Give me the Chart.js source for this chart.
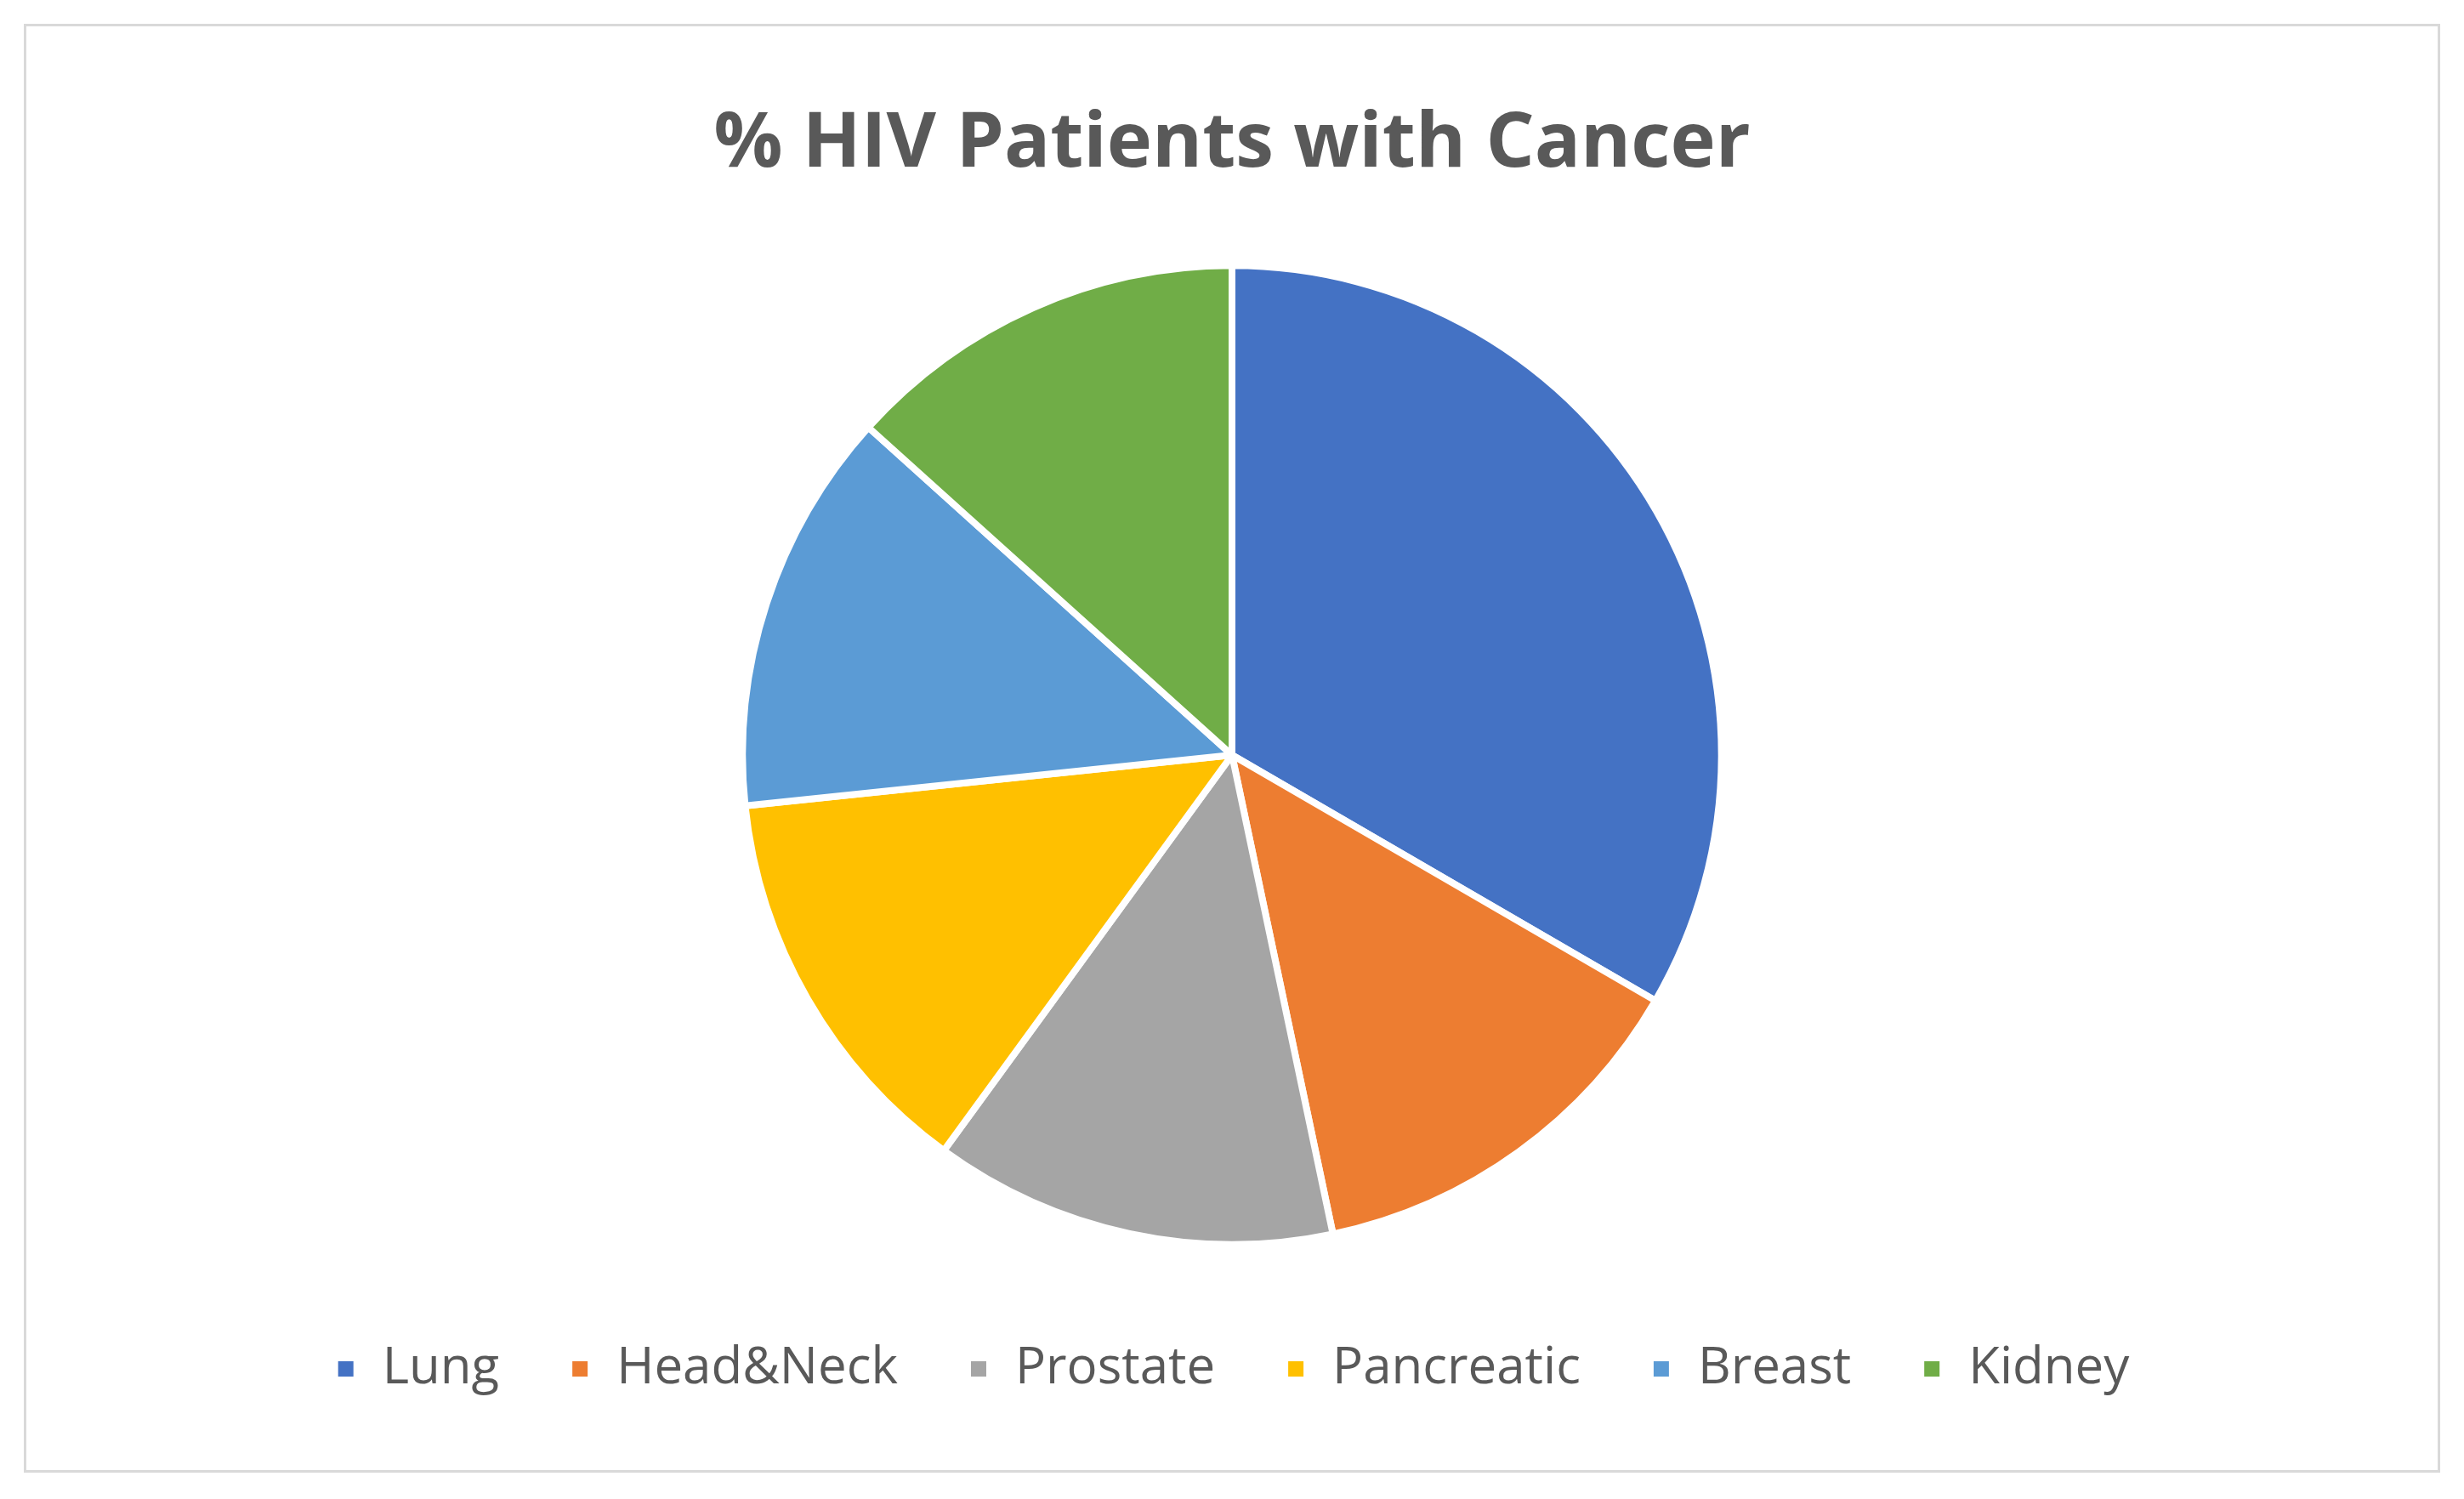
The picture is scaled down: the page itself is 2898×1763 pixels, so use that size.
<!DOCTYPE html>
<html>
<head>
<meta charset="utf-8">
<script src="https://cdn.jsdelivr.net/npm/chart.js@4.4.1/dist/chart.umd.min.js"></script>
<style>
  html, body { margin: 0; padding: 0; background: #fff; }
  .box {
    position: absolute; left: 28px; top: 28px;
    width: 2836px; height: 1698px;
    border: 3px solid #d9d9d9; box-sizing: content-box;
  }
</style>
</head>
<body>
<div class="box"><canvas id="pie" width="2836" height="1698"></canvas></div>
<script>
const categories = ['Lung', 'Head&Neck', 'Prostate', 'Pancreatic', 'Breast', 'Kidney'];
const values = [33.3, 13.3, 13.3, 13.3, 13.3, 13.3];
const colors = ['#4472c4', '#ed7d31', '#a5a5a5', '#ffc000', '#5b9bd5', '#70ad47'];

Chart.defaults.font.family = '"Open Sans", "Liberation Sans", sans-serif';
Chart.defaults.color = '#595959';

new Chart(document.getElementById('pie').getContext('2d'), {
    type: 'pie',
    data: {
        labels: categories,
        datasets: [{
            data: values,
            backgroundColor: colors,
            borderColor: '#ffffff',
            borderWidth: 8
        }]
    },
    options: {
        responsive: false,
        animation: false,
        radius: '95%',
        layout: { padding: { top: 10, bottom: 79 } },
        plugins: {
            title: {
                display: true,
                text: '% HIV Patients with Cancer',
                font: { size: 90, weight: 'bold' },
                color: '#595959',
                padding: { top: 75, bottom: 54 }
            },
            legend: {
                position: 'bottom',
                labels: {
                    font: { size: 60 },
                    color: '#595959',
                    boxWidth: 26,
                    boxHeight: 26,
                    padding: 82
                }
            },
            tooltip: { enabled: false }
        }
    }
});
</script>
</body>
</html>
